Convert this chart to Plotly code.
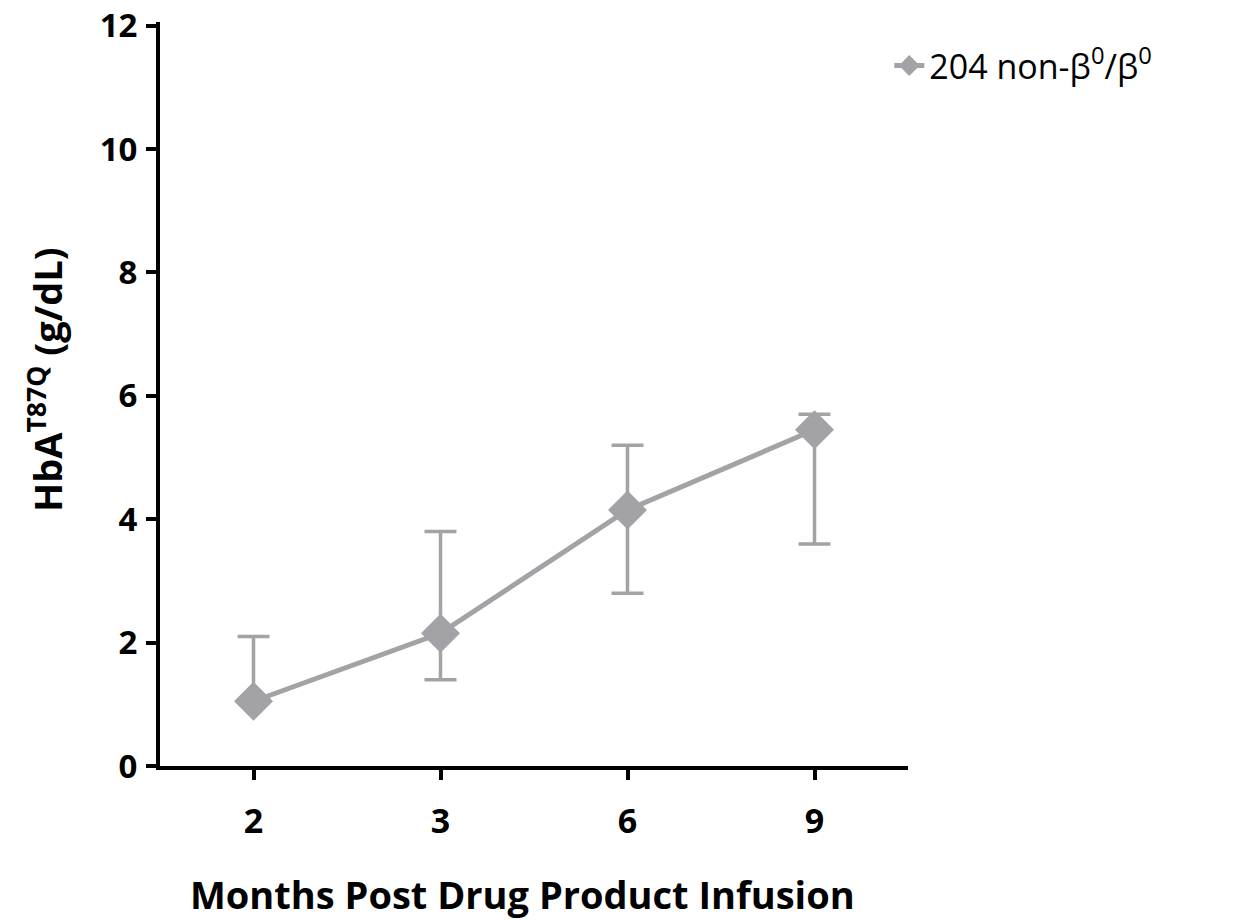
import plotly.graph_objects as go

months = ["2", "3", "6", "9"]
hba_mean = [1.05, 2.15, 4.15, 5.45]
err_upper = [2.1, 3.8, 5.2, 5.7]
err_lower = [1.05, 1.4, 2.8, 3.6]
y_ticks = [0, 2, 4, 6, 8, 10, 12]
series_name = "204 non-β<sup>0</sup>/β<sup>0</sup>"

grey = "#A3A3A7"
FONT = "Open Sans"

fig = go.Figure()
fig.add_trace(go.Scatter(
    x=months, y=hba_mean, name=series_name, mode="lines+markers",
    line=dict(color=grey, width=5),
    marker=dict(symbol="diamond", size=30, color=grey),
    error_y=dict(type="data", symmetric=False,
                 array=[u - m for u, m in zip(err_upper, hba_mean)],
                 arrayminus=[m - l for m, l in zip(hba_mean, err_lower)],
                 color=grey, thickness=3.5, width=16),
    cliponaxis=False,
))

fig.update_layout(
    width=1245, height=921,
    margin=dict(l=152, r=345, t=14, b=163),
    plot_bgcolor="white", paper_bgcolor="white",
    font=dict(family=FONT, color="black"),
    showlegend=True,
    legend=dict(x=0.975, y=0.98, xanchor="left", yanchor="top",
                font=dict(size=34, family=FONT, color="black"),
                bgcolor="rgba(0,0,0,0)"),
    xaxis=dict(type="category", range=[-0.5, 3.5], showline=True, linewidth=4,
               linecolor="black", ticks="outside", ticklen=10, tickwidth=4,
               tickcolor="black", showgrid=False, zeroline=False,
               automargin=False,
               tickfont=dict(size=34, family=FONT, color="black", weight="bold"),
               ticklabelstandoff=12, ticklabeloverflow="allow"),
    yaxis=dict(range=[0, 12.06], tickvals=y_ticks, showline=True, linewidth=4,
               linecolor="black", ticks="outside", ticklen=10, tickwidth=4,
               tickcolor="black", showgrid=False, zeroline=False,
               automargin=False,
               tickfont=dict(size=33, family=FONT, color="black", weight="bold"),
               ticklabelstandoff=2, ticklabeloverflow="allow"),
)

fig.add_annotation(text="<b>Months Post Drug Product Infusion</b>",
                   xref="paper", yref="paper", x=0.484, y=-0.172,
                   xanchor="center", yanchor="middle", showarrow=False,
                   font=dict(size=38, family=FONT, color="black"))
fig.add_annotation(text="<b>HbA<sup>T87Q</sup> (g/dL)</b>",
                   xref="paper", yref="paper", x=-0.154, y=0.52,
                   xanchor="center", yanchor="middle", textangle=-90,
                   showarrow=False,
                   font=dict(size=38, family=FONT, color="black"))

fig.write_html("out.html")
